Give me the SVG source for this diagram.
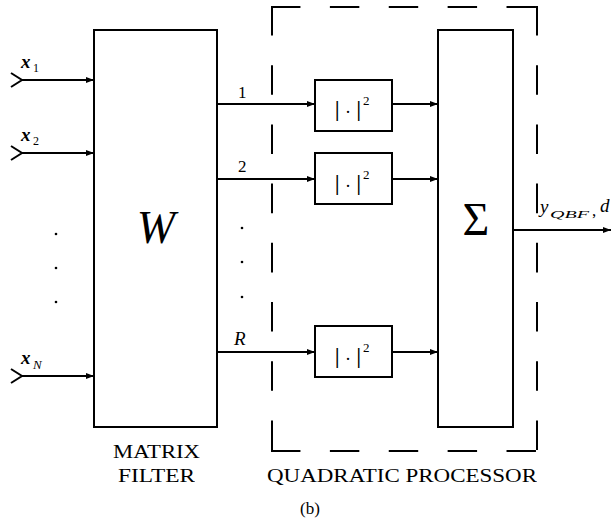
<svg xmlns="http://www.w3.org/2000/svg" width="613" height="529" viewBox="0 0 613 529" font-family="'Liberation Serif', 'Times New Roman', serif">
<style>
.box{fill:none;stroke:#000;stroke-width:2}
.ln{fill:none;stroke:#000;stroke-width:2}
.dash{fill:none;stroke:#000;stroke-width:2;stroke-linecap:square}
text{font-family:'Liberation Serif','Times New Roman',serif;fill:#000;opacity:0.999}
.i{font-style:italic}
.bar{font-weight:bold;font-size:20px}
</style>
<defs>
<marker id="ah" markerUnits="userSpaceOnUse" markerWidth="8" markerHeight="6" refX="8" refY="3" orient="auto">
<path d="M0,0 L8,3 L0,6 z" fill="#000"/>
</marker>
</defs>
<rect width="613" height="529" fill="#fff"/>

<g id="quadratic-processor-frame">
<path class="dash" d="M272,7 H537" stroke-dasharray="27.44 31.44"/>
<path class="dash" d="M272,451 H537" stroke-dasharray="27.44 31.44"/>
<path class="dash" d="M272,7 V451" stroke-dasharray="27.6 31.6"/>
<path class="dash" d="M537,7 V451" stroke-dasharray="27.6 31.6"/>
<text x="267" y="482" font-size="19.5" textLength="270" lengthAdjust="spacingAndGlyphs">QUADRATIC PROCESSOR</text>
</g>

<g id="matrix-filter">
<rect class="box" x="94" y="30" width="123" height="397"/>
<text class="i" x="156" y="243" font-size="46" text-anchor="middle">W</text>
<text x="113" y="458" font-size="19.5" textLength="87" lengthAdjust="spacingAndGlyphs">MATRIX</text>
<text x="118" y="482" font-size="19.5" textLength="77" lengthAdjust="spacingAndGlyphs">FILTER</text>
</g>

<g id="square-1">
<rect class="box" x="315" y="80" width="77" height="51"/>
<text x="335" y="116" font-size="18"><tspan class="bar">|</tspan><tspan dx="5.5" dy="2">·</tspan><tspan class="bar" dx="5.5" dy="-2">|</tspan></text>
<text x="363" y="105" font-size="13">2</text>
</g>
<g id="square-2">
<rect class="box" x="315" y="153" width="77" height="51"/>
<text x="335" y="190" font-size="18"><tspan class="bar">|</tspan><tspan dx="5.5" dy="2">·</tspan><tspan class="bar" dx="5.5" dy="-2">|</tspan></text>
<text x="363" y="179" font-size="13">2</text>
</g>
<g id="square-R">
<rect class="box" x="315" y="326" width="77" height="51"/>
<text x="335" y="363" font-size="18"><tspan class="bar">|</tspan><tspan dx="5.5" dy="2">·</tspan><tspan class="bar" dx="5.5" dy="-2">|</tspan></text>
<text x="363" y="352" font-size="13">2</text>
</g>

<g id="sum">
<rect class="box" x="438" y="30" width="75" height="397"/>
<text x="476" y="235" font-size="46" text-anchor="middle">Σ</text>
</g>

<g id="connectors">
<path class="ln" d="M11,73 L22,80 L11,87"/>
<line class="ln" x1="22" y1="80" x2="94" y2="80" marker-end="url(#ah)"/>
<path class="ln" d="M11,146 L22,153 L11,160"/>
<line class="ln" x1="22" y1="153" x2="94" y2="153" marker-end="url(#ah)"/>
<path class="ln" d="M11,369 L22,376 L11,383"/>
<line class="ln" x1="22" y1="376" x2="94" y2="376" marker-end="url(#ah)"/>

<line class="ln" x1="217" y1="104" x2="315" y2="104" marker-end="url(#ah)"/>
<line class="ln" x1="217" y1="179" x2="315" y2="179" marker-end="url(#ah)"/>
<line class="ln" x1="217" y1="352" x2="315" y2="352" marker-end="url(#ah)"/>

<line class="ln" x1="392" y1="104" x2="438" y2="104" marker-end="url(#ah)"/>
<line class="ln" x1="392" y1="179" x2="438" y2="179" marker-end="url(#ah)"/>
<line class="ln" x1="392" y1="352" x2="438" y2="352" marker-end="url(#ah)"/>

<line class="ln" x1="513" y1="230" x2="611" y2="230" marker-end="url(#ah)"/>
</g>

<g id="labels">
<text class="i" x="21" y="68" font-size="19" font-weight="bold">x</text>
<text x="33" y="72" font-size="12">1</text>
<text class="i" x="21" y="141" font-size="19" font-weight="bold">x</text>
<text x="33" y="145" font-size="12">2</text>
<text class="i" x="21" y="364" font-size="19" font-weight="bold">x</text>
<text class="i" x="33" y="369" font-size="13">N</text>

<circle cx="56" cy="234" r="1.3"/>
<circle cx="56" cy="268" r="1.3"/>
<circle cx="56" cy="302" r="1.3"/>
<circle cx="242" cy="228" r="1.3"/>
<circle cx="242" cy="262" r="1.3"/>
<circle cx="242" cy="297" r="1.3"/>

<text x="238" y="98" font-size="17">1</text>
<text x="238" y="172" font-size="17">2</text>
<text class="i" x="234" y="345" font-size="19">R</text>

<text class="i" x="540" y="213" font-size="19">y</text>
<text class="i" x="550" y="218" font-size="10" textLength="39" lengthAdjust="spacingAndGlyphs">QBF</text>
<text x="592" y="216" font-size="17">,</text>
<text class="i" x="600" y="212" font-size="19">d</text>

<text x="310" y="514" font-size="17" text-anchor="middle">(b)</text>
</g>
</svg>
